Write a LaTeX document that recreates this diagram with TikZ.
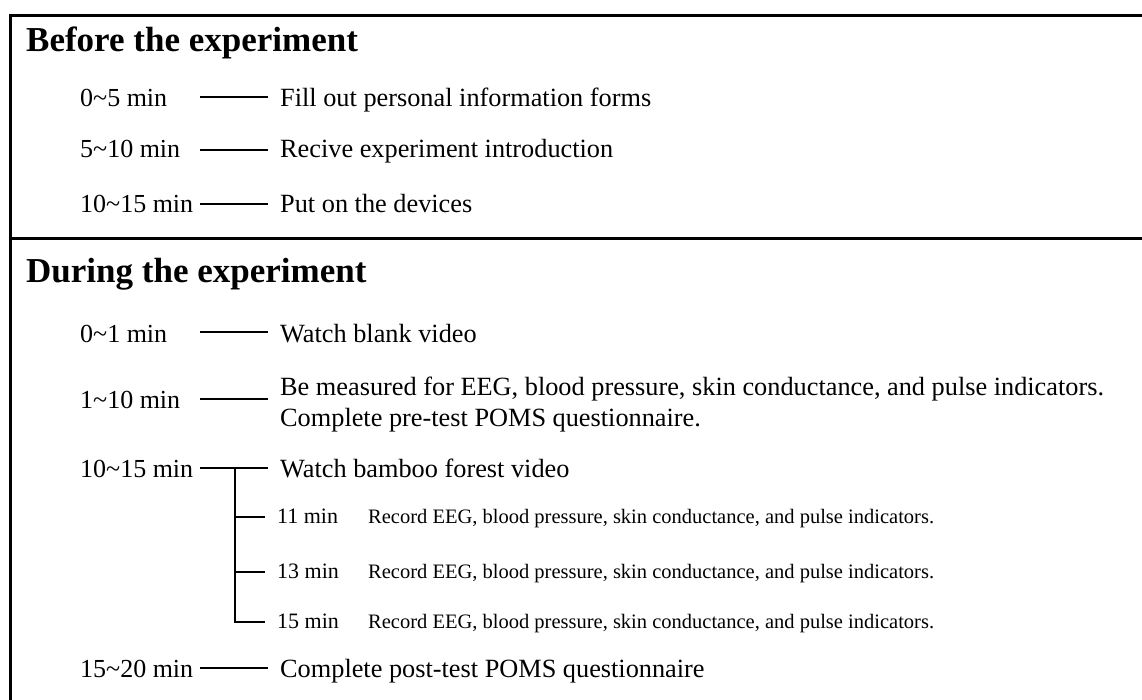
\documentclass[tikz,border=0pt]{standalone}
\usepackage{fontspec}
\setmainfont{Liberation Serif}
\newcommand{\tl}{\textasciitilde}
\begin{document}
\begin{tikzpicture}[x=1pt,y=-1pt,
  frame/.style={line width=3pt,line cap=rect},
  conn/.style={line width=2pt},
  head/.style={anchor=base west,inner sep=0pt,font=\fontsize{35}{40}\selectfont\bfseries},
  tlabel/.style={anchor=base west,inner sep=0pt,font=\fontsize{26}{31}\selectfont},
  desc/.style={anchor=base west,inner sep=0pt,font=\fontsize{26.3}{31}\selectfont},
  sublabel/.style={anchor=base west,inner sep=0pt,font=\fontsize{22}{26}\selectfont},
  subdesc/.style={anchor=base west,inner sep=0pt,font=\fontsize{20.5}{24}\selectfont},
]
\useasboundingbox (0,0) rectangle (1142,700);
% frame
\draw[frame] (1145,15.5) -- (10,15.5) -- (10,705);
\draw[frame] (10,238.5) -- (1145,238.5);

% Before the experiment
\node[head] (h1) at (26,52) {Before the experiment};

\node[tlabel] (a1) at (80,107) {0\tl5 min};
\node[desc] (d1) at (280,107) {Fill out personal information forms};
\coordinate (c1) at (200,97);
\draw[conn] (c1) -- ([xshift=-12pt]d1.west |- c1);

\node[tlabel] (a2) at (80,158) {5\tl10 min};
\node[desc] (d2) at (280,158) {Recive experiment introduction};
\coordinate (c2) at (200,150);
\draw[conn] (c2) -- ([xshift=-12pt]d2.west |- c2);

\node[tlabel] (a3) at (80,213) {10\tl15 min};
\node[desc] (d3) at (280,213) {Put on the devices};
\coordinate (c3) at (200,204);
\draw[conn] (c3) -- ([xshift=-12pt]d3.west |- c3);

% During the experiment
\node[head] (h2) at (26,283) {During the experiment};

\node[tlabel] (a4) at (80,342) {0\tl1 min};
\node[desc] (d4) at (280,342) {Watch blank video};
\coordinate (c4) at (200,332);
\draw[conn] (c4) -- ([xshift=-12pt]d4.west |- c4);

\node[tlabel] (a5) at (80,408) {1\tl10 min};
\node[desc] (d5) at (280,395) {Be measured for EEG, blood pressure, skin conductance, and pulse indicators.};
\node[desc] (d5b) at (280,426) {Complete pre-test POMS questionnaire.};
\coordinate (c5) at (200,399);
\draw[conn] (c5) -- ([xshift=-12pt]d5.west |- c5);

\node[tlabel] (a6) at (80,477) {10\tl15 min};
\node[desc] (d6) at (280,477) {Watch bamboo forest video};
\coordinate (c6) at (200,468);
\draw[conn] (c6) -- ([xshift=-12pt]d6.west |- c6);

\coordinate (br) at (235,468);
\node[sublabel] (s1) at (277,523) {11 min};
\node[subdesc] (r1) at (368,523) {Record EEG, blood pressure, skin conductance, and pulse indicators.};
\node[sublabel] (s2) at (277,578) {13 min};
\node[subdesc] (r2) at (368,578) {Record EEG, blood pressure, skin conductance, and pulse indicators.};
\node[sublabel] (s3) at (277,628) {15 min};
\node[subdesc] (r3) at (368,628) {Record EEG, blood pressure, skin conductance, and pulse indicators.};
\coordinate (b1) at (265,517);
\coordinate (b2) at (265,572);
\coordinate (b3) at (265,622);
\draw[conn] (br) |- (b3);
\draw[conn] (br |- b1) -- (b1);
\draw[conn] (br |- b2) -- (b2);

\node[tlabel] (a7) at (80,677) {15\tl20 min};
\node[desc] (d7) at (280,677) {Complete post-test POMS questionnaire};
\coordinate (c7) at (200,668);
\draw[conn] (c7) -- ([xshift=-12pt]d7.west |- c7);
\end{tikzpicture}
\end{document}
